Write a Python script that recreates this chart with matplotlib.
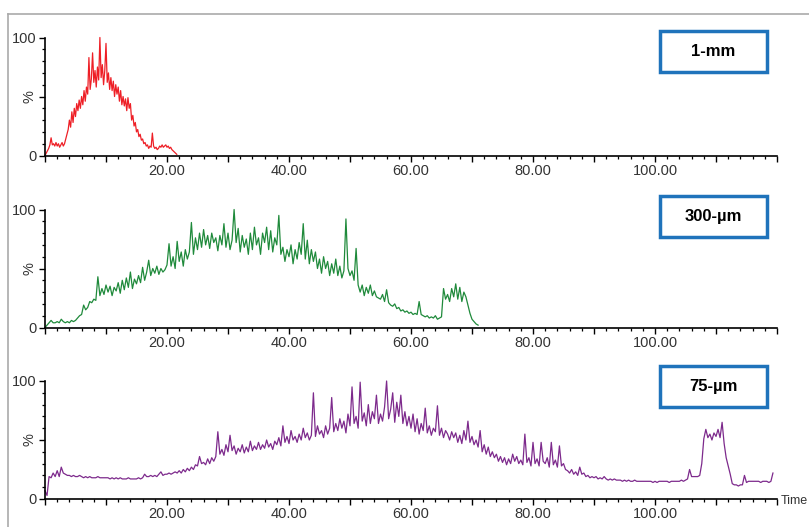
import numpy as np
import matplotlib
matplotlib.use("Agg")
import matplotlib.pyplot as plt
from matplotlib.ticker import MultipleLocator, FuncFormatter
from matplotlib.patches import Rectangle
from matplotlib.lines import Line2D

plt.rcParams['font.family'] = ['Liberation Sans', 'DejaVu Sans']

# panel names
labels = ["1-mm", "300-µm", "75-µm"]
colors = ["#ee1f26", "#1f8a3b", "#7d2a8c"]

# 1-mm trace, one value every 0.2 min
red_step = 0.2
red_vals = [
    0, 2, 4, 6, 9,
    15, 9, 10, 8, 11,
    8, 10, 7, 9, 11,
    8, 10, 14, 18, 22,
    30, 24, 37, 28, 40,
    33, 44, 38, 47, 40,
    50, 43, 55, 46, 58,
    52, 83, 56, 65, 87,
    62, 72, 58, 75, 64,
    100, 66, 77, 60, 72,
    95, 62, 70, 56, 66,
    55, 63, 50, 60, 52,
    58, 46, 55, 43, 50,
    42, 48, 38, 49, 40,
    44, 30, 34, 25, 28,
    20, 22, 16, 18, 13,
    14, 10, 11, 8, 9,
    6, 8, 7, 19, 8,
    6, 7, 5, 6, 8,
    7, 9, 7, 8, 9,
    7, 8, 6, 7, 5,
    4, 3, 2, 1,
]

# 300-um trace, three values per minute
green_step = 1 / 3
green_vals = [
    0, 2, 4, 6, 4, 4, 5, 4, 7, 5, 4, 5, 4, 6, 5,
    6, 8, 10, 11, 19, 15, 17, 22, 21, 24, 23, 43, 27, 33, 28,
    36, 30, 35, 27, 34, 31, 38, 29, 40, 32, 42, 34, 47, 33, 41,
    37, 44, 38, 51, 40, 47, 57, 44, 50, 46, 52, 45, 50, 47, 49,
    53, 71, 52, 60, 50, 73, 56, 64, 52, 66, 58, 64, 89, 62, 76,
    66, 80, 68, 83, 70, 78, 67, 80, 72, 76, 65, 78, 70, 88, 68,
    80, 66, 74, 100, 72, 84, 64, 78, 68, 75, 62, 80, 66, 85, 70,
    76, 62, 80, 72, 85, 66, 82, 64, 76, 70, 95, 62, 68, 56, 66,
    60, 70, 54, 66, 58, 72, 62, 88, 58, 74, 54, 66, 56, 64, 50,
    58, 46, 60, 50, 56, 44, 54, 46, 58, 44, 52, 42, 48, 92, 50,
    44, 48, 40, 67, 36, 30, 36, 27, 34, 29, 36, 27, 31, 26, 25,
    24, 28, 22, 32, 21, 19, 18, 20, 16, 17, 14, 15, 13, 14, 12,
    13, 11, 12, 11, 22, 11, 10, 9, 10, 8, 9, 8, 10, 7, 8,
    9, 33, 24, 28, 22, 33, 26, 37, 24, 34, 22, 30, 26, 19, 12,
    7, 5, 3, 2,
]

# 75-um trace, three values per minute
purple_step = 1 / 3
purple_vals = [
    7, 3, 19, 18, 22, 19, 24, 19, 27, 22, 21, 20, 20, 19, 20,
    19, 19, 20, 19, 18, 19, 18, 19, 18, 18, 18, 19, 18, 18, 18,
    18, 18, 17, 18, 17, 18, 17, 18, 17, 17, 17, 18, 17, 17, 17,
    17, 18, 17, 18, 21, 19, 19, 20, 19, 20, 19, 21, 23, 20, 21,
    21, 22, 21, 22, 23, 22, 24, 22, 25, 23, 26, 24, 27, 25, 29,
    28, 36, 30, 31, 29, 34, 30, 35, 32, 36, 57, 38, 42, 37, 46,
    40, 54, 41, 45, 38, 43, 40, 46, 39, 44, 40, 49, 41, 45, 42,
    48, 42, 46, 43, 50, 44, 47, 42, 49, 46, 52, 45, 62, 48, 53,
    47, 58, 50, 53, 48, 55, 50, 60, 52, 56, 50, 54, 90, 53, 62,
    55, 58, 52, 62, 55, 60, 86, 57, 64, 58, 68, 60, 66, 56, 72,
    62, 95, 64, 70, 60, 99, 66, 73, 62, 80, 64, 74, 68, 88, 64,
    72, 66, 78, 100, 68, 76, 90, 65, 82, 70, 88, 64, 74, 62, 70,
    60, 72, 57, 68, 55, 64, 58, 77, 56, 62, 54, 60, 57, 79, 54,
    60, 52, 58, 55, 50, 57, 52, 56, 48, 54, 47, 58, 50, 66, 48,
    53, 46, 50, 44, 58, 40, 46, 38, 44, 36, 40, 35, 38, 32, 36,
    31, 35, 29, 34, 30, 38, 32, 36, 30, 33, 29, 55, 31, 35, 28,
    48, 30, 34, 28, 48, 32, 30, 35, 27, 48, 29, 33, 27, 45, 28,
    30, 25, 24, 22, 25, 21, 23, 20, 27, 21, 22, 19, 20, 18, 19,
    18, 19, 17, 18, 17, 19, 17, 16, 17, 16, 17, 16, 16, 16, 15,
    16, 15, 16, 15, 15, 16, 15, 15, 15, 15, 15, 15, 15, 15, 14,
    15, 14, 15, 15, 15, 15, 15, 14, 15, 15, 15, 15, 15, 16, 15,
    16, 17, 25, 19, 19, 19, 19, 20, 30, 51, 59, 52, 55, 50, 56,
    53, 59, 52, 65, 47, 35, 28, 21, 13, 12, 12, 11, 12, 12, 20,
    14, 15, 15, 15, 15, 15, 15, 14, 15, 15, 15, 14, 15, 22,
]

series = [
    (red_vals, red_step),
    (green_vals, green_step),
    (purple_vals, purple_step),
]

fig = plt.figure(figsize=(8.09, 5.27), dpi=100)
W, H = 809, 527

# axes: left/right edges and the pixel rows of 0 and 100 in each panel
x_left, x_right = 45, 777
zero_rows = [155.5, 327.5, 499]
box_tops = [31, 196, 366]

for i, (vals, step) in enumerate(series):
    y0 = zero_rows[i]
    ax = fig.add_axes([x_left / W, 1 - y0 / H, (x_right - x_left) / W, 118 / H])
    t = np.arange(len(vals)) * step
    ax.plot(t, vals, color=colors[i], lw=0.9, clip_on=False)
    ax.set_xlim(0, 120)
    ax.set_ylim(0, 100)

    for s in ["top", "right"]:
        ax.spines[s].set_visible(False)
    for s in ["left", "bottom"]:
        ax.spines[s].set_linewidth(1.2)

    ax.xaxis.set_major_locator(MultipleLocator(10))
    ax.xaxis.set_minor_locator(MultipleLocator(2))
    ax.xaxis.set_major_formatter(FuncFormatter(
        lambda v, p: f"{v:.2f}" if (round(v) % 20 == 0 and 0 < v < 120) else ""))
    ax.yaxis.set_minor_locator(MultipleLocator(10))
    ax.set_yticks([0, 50, 100])
    ax.set_yticklabels(["0", "%", "100"])
    ax.get_yticklabels()[1].set_rotation(90)
    ax.get_yticklabels()[1].set_va("center")

    ax.tick_params(axis="both", which="major", length=4.5, width=1.0,
                   labelsize=10.5, labelcolor="#333333", pad=1.5)
    ax.tick_params(axis="both", which="minor", length=2.5, width=0.9)

    # panel label box
    top = box_tops[i]
    fig.add_artist(Rectangle((660 / W, 1 - (top + 41) / H), 107 / W, 41 / H,
                             transform=fig.transFigure, fill=False,
                             edgecolor="#1f73bb", lw=2.5))
    fig.text(713 / W, 1 - (top + 20.5) / H, labels[i], ha="center", va="center",
             fontsize=12, fontweight="bold", color="black")

fig.text(781 / W, 1 - 501 / H, "Time", ha="left", va="center", fontsize=9,
         color="#333333")

# grey frame on the left and top
fig.add_artist(Line2D([8 / W, 8 / W], [0, 1 - 14 / H], color="#aaaaaa", lw=1.2,
                      transform=fig.transFigure))
fig.add_artist(Line2D([8 / W, 1], [1 - 14 / H, 1 - 14 / H], color="#aaaaaa", lw=1.2,
                      transform=fig.transFigure))

fig.savefig("out.png", dpi=100)
